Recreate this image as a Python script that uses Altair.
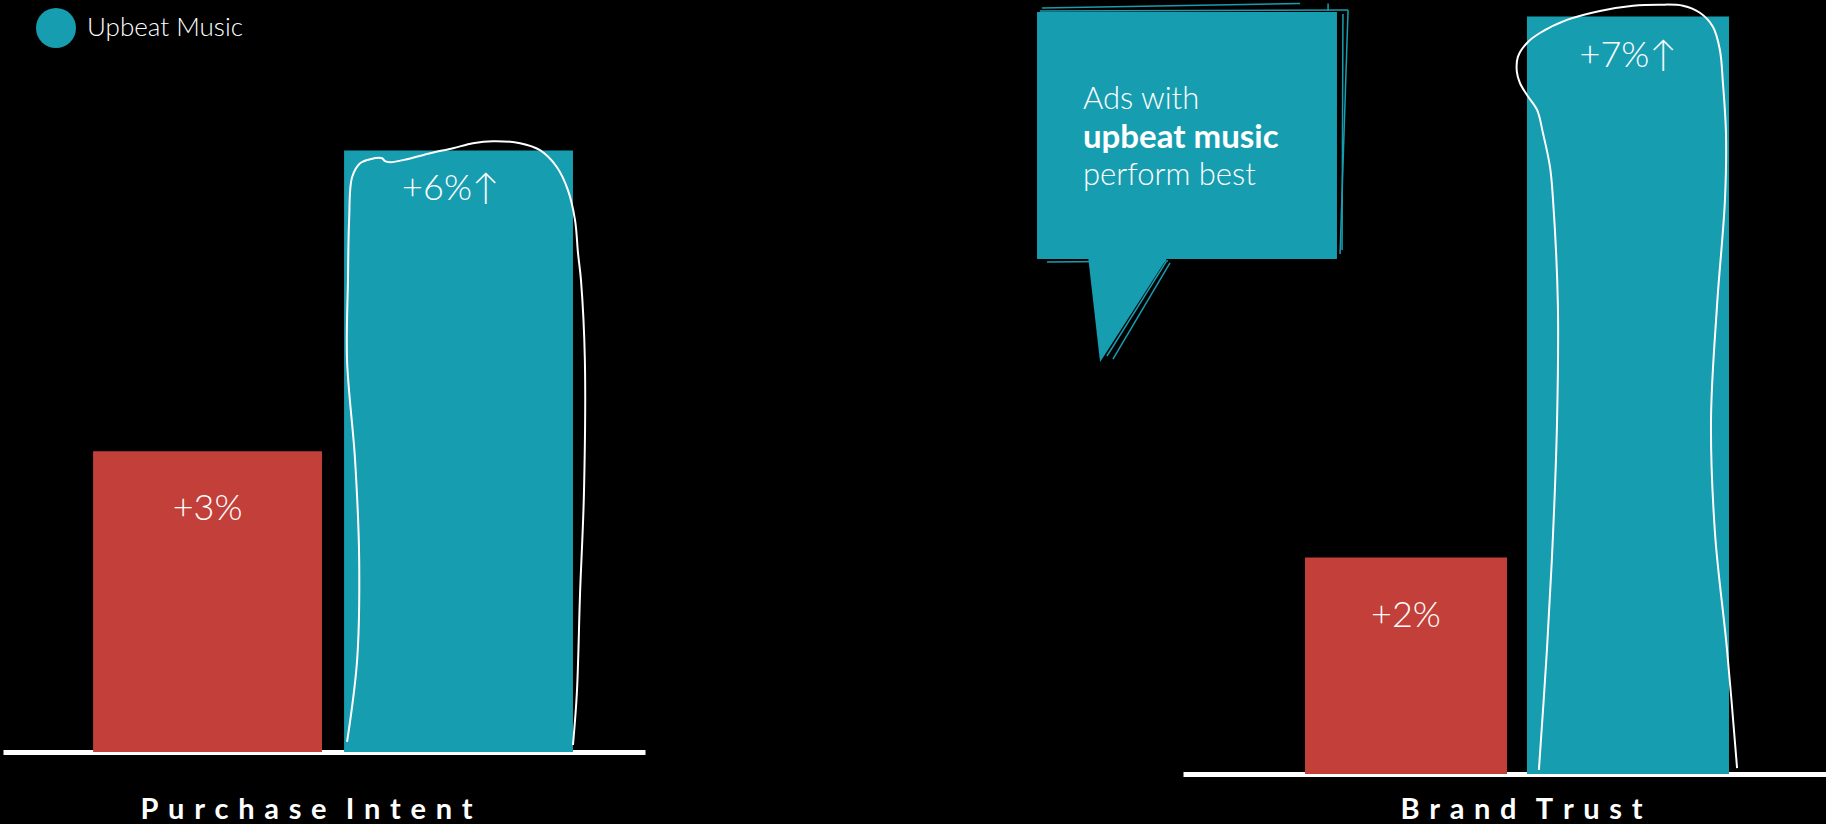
import altair as alt
import pandas as pd

# ------------------------------------------------------------------ data
PANELS = ["Purchase Intent", "Brand Trust"]
SERIES = ["Other Music", "Upbeat Music"]
OTHER_VALUES = [3, 2]          # % uplift, red bars
UPBEAT_VALUES = [6, 7]         # % uplift, teal bars
UPBEAT_MARK = "\u2191"

# hand-drawn loop around each teal bar: x as fraction of the bar width, y in %
LEFT_OUTLINE_FX = [0.013, 0.057, 0.066, 0.048, 0.013, 0.017, 0.022, 0.035, 0.070, 0.114,
                   0.166, 0.179, 0.201, 0.275, 0.376, 0.476, 0.563, 0.651, 0.769, 0.856,
                   0.930, 0.978, 1.009, 1.022, 1.035, 1.052, 1.048, 1.031, 1.017, 1.000]
LEFT_OUTLINE_Y = [0.100, 0.917, 1.914, 2.911, 3.908, 4.706, 5.304, 5.733, 5.872, 5.912,
                  5.922, 5.892, 5.882, 5.912, 5.972, 6.022, 6.072, 6.092, 6.072, 6.002,
                  5.832, 5.603, 5.304, 4.975, 4.706, 3.908, 2.582, 1.585, 0.588, 0.070]
RIGHT_OUTLINE_FX = [0.059, 0.099, 0.129, 0.149, 0.153, 0.129, 0.114, 0.079, 0.050, 0.000,
                    -0.035, -0.050, -0.045, 0.000, 0.064, 0.198, 0.361, 0.525, 0.658, 0.772,
                    0.856, 0.921, 0.955, 0.970, 0.985, 0.980, 0.941, 0.911, 0.931, 0.990, 1.040]
RIGHT_OUTLINE_Y = [0.037, 1.155, 2.218, 3.272, 4.335, 5.305, 5.610, 5.924, 6.137, 6.275,
                   6.386, 6.488, 6.627, 6.756, 6.848, 6.969, 7.052, 7.100, 7.110, 7.100,
                   7.035, 6.904, 6.691, 6.386, 5.924, 5.305, 4.335, 3.272, 2.218, 1.155, 0.055]

CALLOUT_LINES = ["Ads with", "upbeat music", "perform best"]
CALLOUT_BOLD = [False, True, False]

# ------------------------------------------------------------------ layout / style
RED = "#C3403A"
TEAL = "#179DB0"
FONT = "Lato"

LAYOUT = [
    dict(width=642, height=752, ymax=7.50, xdom=[-0.815, 1.743], half=0.456,
         title_x=303, title_y=66, teal_dx=-8),
    dict(width=643, height=774, ymax=7.153, xdom=[-1.0045, 1.892], half=0.455,
         title_x=338, title_y=44, teal_dx=0),
]

# speech bubble geometry in the Brand Trust panel's units (slot units, %)
BUBBLE_BOX = dict(x0=-1.662, x1=-0.311, y0=4.760, y1=7.043)
BUBBLE_TAIL = dict(x=[-1.432, -1.378, -1.072], y=[4.78, 3.808, 4.78], y2=[4.78, 4.78, 4.78])
BUBBLE_SKETCH = [
    [(-1.640, 7.079), (-0.477, 7.120)],
    [(-0.351, 7.120), (-0.351, 7.052)],
    [(-1.649, 7.052), (-0.261, 7.061)],
    [(-0.261, 7.061), (-0.297, 4.806)],
    [(-0.284, 7.024), (-0.288, 4.843)],
    [(-1.617, 4.732), (-1.072, 4.741)],
    [(-1.081, 4.732), (-1.347, 3.863)],
    [(-1.063, 4.723), (-1.320, 3.835)],
]
BUBBLE_TEXT_X = -1.455
BUBBLE_TEXT_Y = [6.146, 5.786, 5.444]


def spaced(text):
    return "\u2004\u2004".join("\u2004".join(w) for w in text.split(" "))


color = alt.Color(
    "series:N",
    scale=alt.Scale(domain=SERIES, range=[RED, TEAL]),
    legend=alt.Legend(
        orient="none", legendX=33, legendY=8, direction="horizontal", title=None,
        values=["Upbeat Music"], symbolType="circle", symbolSize=1600,
        symbolStrokeWidth=0, symbolOpacity=1, labelFont=FONT, labelFontWeight=300,
        labelFontSize=26, labelColor="white", labelOffset=11, labelLimit=400,
        padding=0,
    ),
)


def panel(p):
    lay = LAYOUT[p]
    half = lay["half"]
    xs = alt.Scale(domain=lay["xdom"], nice=False, zero=False)
    ys = alt.Scale(domain=[0, lay["ymax"]], nice=False, zero=False)
    ax = alt.Axis(
        title=spaced(PANELS[p]), domain=True, domainColor="white", domainWidth=5,
        ticks=False, labels=False, grid=False, titleX=lay["title_x"],
        titleY=lay["title_y"], titleAlign="center", titleBaseline="alphabetic",
        titleAngle=0, titleFont=FONT, titleFontSize=29, titleFontWeight="bold",
        titleColor="white", titleLimit=800,
    )

    def X(field):
        return alt.X(field, scale=xs, axis=ax)

    def Y(field):
        return alt.Y(field, scale=ys, axis=None)

    vals = [OTHER_VALUES[p], UPBEAT_VALUES[p]]
    bars = pd.DataFrame({
        "series": SERIES,
        "value": vals,
        "slot": [0, 1],
    })
    bars["x0"] = bars["slot"] - half
    bars["x1"] = bars["slot"] + half
    bars["xc"] = bars["slot"].astype(float)
    bars["base"] = 0.0
    bars["label"] = ["+%d%%" % vals[0], "+%d%%%s" % (vals[1], UPBEAT_MARK)]

    fx = [LEFT_OUTLINE_FX, RIGHT_OUTLINE_FX][p]
    fy = [LEFT_OUTLINE_Y, RIGHT_OUTLINE_Y][p]
    outline = pd.DataFrame({
        "ox": [1 - half + f * 2 * half for f in fx],
        "oy": fy,
        "k": list(range(len(fx))),
    })

    base = alt.Chart(bars)
    rect = base.mark_rect().encode(
        x=X("x0:Q"), x2="x1:Q", y=Y("value:Q"), y2="base:Q", color=color
    )
    loop = alt.Chart(outline).mark_line(
        color="white", strokeWidth=2, interpolate="catmull-rom"
    ).encode(x=X("ox:Q"), y=Y("oy:Q"), order="k:Q")
    lab_red = base.transform_filter(alt.datum.slot == 0).mark_text(
        font=FONT, fontWeight=300, fontSize=36, color="white",
        baseline="alphabetic", align="center", dy=69,
    ).encode(x=X("xc:Q"), y=Y("value:Q"), text="label:N")
    lab_teal = base.transform_filter(alt.datum.slot == 1).mark_text(
        font=FONT, fontWeight=300, fontSize=36, color="white",
        baseline="alphabetic", align="center", dy=50, dx=lay["teal_dx"],
    ).encode(x=X("xc:Q"), y=Y("value:Q"), text="label:N")

    layers = []
    if p == 1:
        box = pd.DataFrame([BUBBLE_BOX])
        tail = pd.DataFrame(BUBBLE_TAIL)
        sk_rows = []
        for i, seg in enumerate(BUBBLE_SKETCH):
            for j, (sx, sy) in enumerate(seg):
                sk_rows.append({"seg": i, "k": j, "sx": sx, "sy": sy})
        sketch = pd.DataFrame(sk_rows)
        txt = pd.DataFrame({
            "line": CALLOUT_LINES,
            "bold": CALLOUT_BOLD,
            "tx": [BUBBLE_TEXT_X] * len(CALLOUT_LINES),
            "ty": BUBBLE_TEXT_Y,
        })
        layers += [
            alt.Chart(box).mark_rect(color=TEAL).encode(
                x=X("x0:Q"), x2="x1:Q", y=Y("y0:Q"), y2="y1:Q"),
            alt.Chart(tail).mark_area(color=TEAL, opacity=1).encode(
                x=X("x:Q"), y=Y("y:Q"), y2="y2:Q"),
            alt.Chart(sketch).mark_line(color=TEAL, strokeWidth=1.5).encode(
                x=X("sx:Q"), y=Y("sy:Q"), detail="seg:N", order="k:Q"),
            alt.Chart(txt).transform_filter(~alt.datum.bold).mark_text(
                font=FONT, fontWeight=300, fontSize=31, color="white",
                align="left", baseline="alphabetic",
            ).encode(x=X("tx:Q"), y=Y("ty:Q"), text="line:N"),
            alt.Chart(txt).transform_filter(alt.datum.bold).mark_text(
                font=FONT, fontWeight="bold", fontSize=33, color="white",
                align="left", baseline="alphabetic",
            ).encode(x=X("tx:Q"), y=Y("ty:Q"), text="line:N"),
        ]
    layers += [rect, loop, lab_red, lab_teal]
    return alt.layer(*layers).properties(width=lay["width"], height=lay["height"])


chart = alt.hconcat(panel(0), panel(1), spacing=538, bounds="flush").properties(
    background="black",
    padding={"left": 3, "top": 0, "right": 0, "bottom": 0},
).configure_view(stroke=None)

chart.save("out.html", embed_options={"renderer": "svg", "actions": False})
